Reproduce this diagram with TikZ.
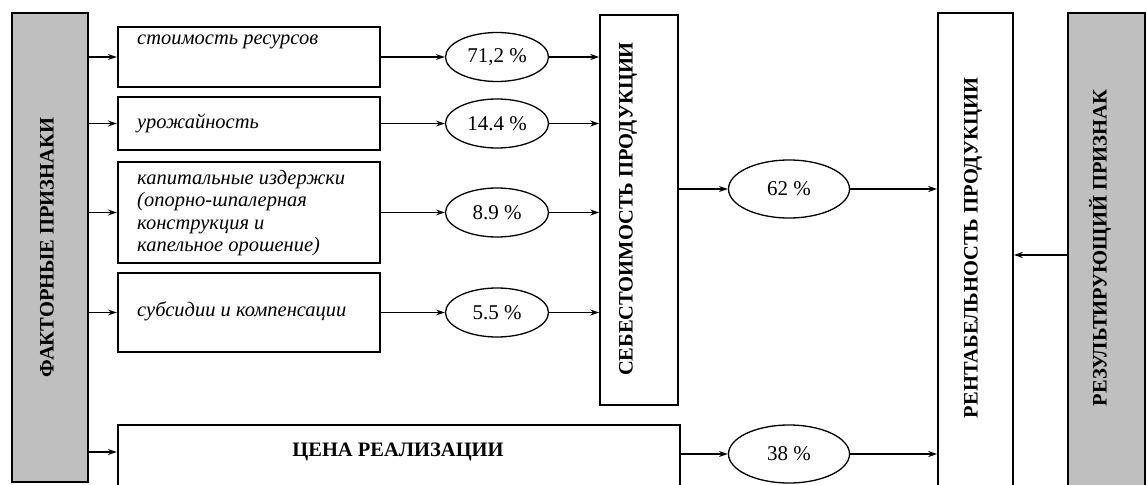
\documentclass[tikz,border=0pt]{standalone}
\usepackage{fontspec}
\setmainfont{Liberation Serif}
\usetikzlibrary{arrows.meta,shapes.geometric}
\definecolor{grayfill}{HTML}{BFBFBF}
\begin{document}
\begin{tikzpicture}[x=1pt,y=-1pt,
  box/.style={draw, line width=2.2pt, fill=white, rectangle, inner sep=0pt},
  thinbox/.style={draw, line width=1.6pt, fill=white, rectangle, inner sep=0pt},
  graybox/.style={draw, line width=2pt, fill=grayfill, rectangle, inner sep=0pt},
  boxtext/.style={font=\fontsize{20.5}{22.5}\selectfont\itshape, align=left, inner sep=0pt, anchor=west},
  vtext/.style={font=\fontsize{20.5}{22}\selectfont\bfseries, rotate=90, inner sep=0pt},
  pct/.style={draw, ellipse, line width=1.3pt, minimum width=103pt, minimum height=49pt, inner sep=0pt, font=\fontsize{21}{22}\selectfont},
  arr/.style={line width=1.5pt, -{Stealth[length=9pt,width=6pt]}},
]
\useasboundingbox (0,0) rectangle (1147,484);
% left gray
\node[graybox, minimum width=76pt, minimum height=469pt] (g) at (50,247.5) {};
\node[vtext] (gt) at (47,247.5) {ФАКТОРНЫЕ ПРИЗНАКИ};
% boxes
\node[box, minimum width=262pt, minimum height=60pt] (b1) at (249,57) {};
\node[boxtext] (b1t) at (137,42) {стоимость ресурсов};
\node[box, minimum width=262pt, minimum height=53pt] (b2) at (249,123.5) {};
\node[boxtext] (b2t) at (137,123) {урожайность};
\node[box, minimum width=262pt, minimum height=101pt] (b3) at (249,212.5) {};
\node[boxtext] (b3t) at (137,213) {капитальные издержки\\(опорно-шпалерная\\конструкция и\\капельное орошение)};
\node[box, minimum width=262pt, minimum height=79pt] (b4) at (249,312.5) {};
\node[boxtext] (b4t) at (137,311) {субсидии и компенсации};
\node[box, minimum width=562pt, minimum height=70pt] (b5) at (399,460) {};
\node[font=\fontsize{20.5}{22}\selectfont\bfseries, inner sep=0pt] (b5t) at (398,452) {ЦЕНА РЕАЛИЗАЦИИ};
% ellipses
\node[pct] (e1) at (497,57) {71,2 \%};
\node[pct] (e2) at (497,123.5) {14.4 \%};
\node[pct] (e3) at (497,212.5) {8.9 \%};
\node[pct] (e4) at (497,312.5) {5.5 \%};
% cost box
\node[thinbox, minimum width=78pt, minimum height=390pt] (s) at (639,210) {};
\node[vtext] (st) at (628,209) {СЕБЕСТОИМОСТЬ ПРОДУКЦИИ};
% 62 / 38
\node[pct, minimum width=121pt, minimum height=58pt] (e62) at (789,189) {62 \%};
\node[pct, minimum width=121pt, minimum height=58pt] (e38) at (789,454) {38 \%};
% profitability
\node[thinbox, minimum width=75pt, minimum height=480pt] (r) at (975.5,253) {};
\node[vtext] (rt) at (973,248) {РЕНТАБЕЛЬНОСТЬ ПРОДУКЦИИ};
% right gray
\node[graybox, minimum width=77pt, minimum height=480pt] (rg) at (1106.5,253) {};
\node[vtext] (rgt) at (1100,248) {РЕЗУЛЬТИРУЮЩИЙ ПРИЗНАК};
% arrows from left gray
\draw[arr] (g.east |- b1) -- (b1.west);
\draw[arr] (g.east |- b2) -- (b2.west);
\draw[arr] (g.east |- b3) -- (b3.west);
\draw[arr] (g.east |- b4) -- (b4.west);
\coordinate (y5) at (0,452);
\draw[arr] (g.east |- y5) -- (b5.west |- y5);
% boxes to ellipses
\draw[arr] (b1.east) -- (e1.west);
\draw[arr] (b2.east) -- (e2.west);
\draw[arr] (b3.east) -- (e3.west);
\draw[arr] (b4.east) -- (e4.west);
% ellipses to cost box
\draw[arr] (e1.east) -- (e1.east -| s.west);
\draw[arr] (e2.east) -- (e2.east -| s.west);
\draw[arr] (e3.east) -- (e3.east -| s.west);
\draw[arr] (e4.east) -- (e4.east -| s.west);
% cost to 62
\draw[arr] (s.east |- e62) -- (e62.west);
\draw[arr] (b5.east |- e38) -- (e38.west);
\draw[arr] (e62.east) -- (e62.east -| r.west);
\draw[arr] (e38.east) -- (e38.east -| r.west);
\coordinate (yr) at (0,255);
\draw[arr] (rg.west |- yr) -- (r.east |- yr);
\end{tikzpicture}
\end{document}
